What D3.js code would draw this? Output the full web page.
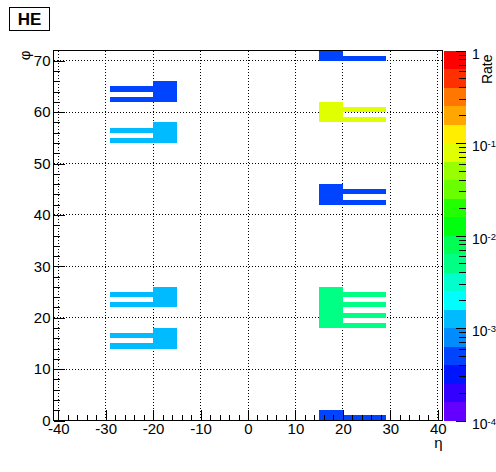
<!DOCTYPE html>
<html>
<head>
<meta charset="utf-8">
<script src="https://cdn.jsdelivr.net/npm/d3@7"></script>
<style>
    body { margin: 0; background: #fff; }
    text { font-family: "Liberation Sans", Arial, sans-serif; fill: #000; }
</style>
</head>
<body>
<div id="chart"></div>
<script>
// HE rate map: eta x phi towers on a log colour scale
const title = "HE";
const xTitle = "η";
const yTitle = "φ";
const zTitle = "Rate";

const xTicks = [-40, -30, -20, -10, 0, 10, 20, 30, 40];
const yTicks = [0, 10, 20, 30, 40, 50, 60, 70];
const zTicks = [1e-4, 1e-3, 1e-2, 1e-1, 1];
const zTickLabels = [["10", "-4"], ["10", "-3"], ["10", "-2"], ["10", "-1"], ["1", ""]];

// one entry per tower group: eta side, phi range, rate
const groupSide = [-1, -1, -1, -1, 1, 1, 1, 1, 1];
const groupPhiLo = [62, 54, 22, 14, 70, 58, 42, 18, 0];
const groupPhiHi = [66, 58, 26, 18, 72, 62, 46, 26, 2];
const groupRate = [5e-4, 1.2e-3, 1.2e-3, 1.2e-3, 5e-4, 8e-2, 5e-4, 5e-3, 5e-4];
// |eta| edges of the wide towers (every phi) and the narrow ones (every 2nd phi)
const blockEta = [15, 20];
const barEta = [20, 29];

const width = 496, height = 472;
const frame = { left: 53.5, right: 442.5, top: 50.5, bottom: 420.5 };
const bar = { left: 444, right: 466 };
const fontSize = 15;

// cells, one per histogram bin
const cells = [];
groupSide.forEach((s, g) => {
    const e0 = [s * blockEta[0], s * blockEta[1]].sort(d3.ascending);
    const e1 = [s * barEta[0], s * barEta[1]].sort(d3.ascending);
    for (let p = groupPhiLo[g]; p < groupPhiHi[g]; p++) {
        cells.push({ x0: e0[0], x1: e0[1], y0: p, y1: p + 1, z: groupRate[g] });
    }
    for (let p = groupPhiLo[g]; p < groupPhiHi[g]; p += 2) {
        cells.push({ x0: e1[0], x1: e1[1], y0: p, y1: p + 1, z: groupRate[g] });
    }
});

// old ROOT spectrum palette, 50 colours sampled on 20 contours
const nLevels = 20;
const palette = d3.range(nLevels).map(k => {
    const idx = Math.floor((k + 0.99) * 50 / nLevels);
    return d3.hsl(280 - (idx + 1) * 5.6, 1, 0.5).formatHex();
});
const color = d3.scaleQuantize().domain([-4, 0]).range(palette);

const x = d3.scaleLinear().domain([-41, 41]).range([frame.left, frame.right]);
const y = d3.scaleLinear().domain([0, 72]).range([frame.bottom, frame.top]);
const z = d3.scaleLog().domain([1e-4, 1]).range([frame.bottom, frame.top]);

const svg = d3.select("#chart")
    .append("svg")
    .attr("width", width)
    .attr("height", height);

svg.append("rect")
    .attr("width", width).attr("height", height)
    .attr("fill", "#fff");

// dotted grid under the cells
const grid = svg.append("g")
    .attr("stroke", "#000")
    .attr("stroke-dasharray", "1,2")
    .attr("shape-rendering", "crispEdges");
grid.selectAll(".gx")
    .data(xTicks)
    .enter().append("line")
    .attr("x1", d => x(d)).attr("x2", d => x(d))
    .attr("y1", frame.top).attr("y2", frame.bottom);
grid.selectAll(".gy")
    .data(yTicks.filter(d => d > 0))
    .enter().append("line")
    .attr("x1", frame.left).attr("x2", frame.right)
    .attr("y1", d => y(d)).attr("y2", d => y(d));

svg.append("g")
    .attr("shape-rendering", "crispEdges")
    .selectAll("rect")
    .data(cells)
    .enter().append("rect")
    .attr("x", d => x(d.x0))
    .attr("width", d => x(d.x1) - x(d.x0))
    .attr("y", d => y(d.y1))
    .attr("height", d => y(d.y0) - y(d.y1))
    .attr("fill", d => color(Math.log10(d.z)));

svg.append("rect")
    .attr("x", frame.left).attr("y", frame.top)
    .attr("width", frame.right - frame.left)
    .attr("height", frame.bottom - frame.top)
    .attr("fill", "none")
    .attr("stroke", "#000")
    .attr("shape-rendering", "crispEdges");

function styleAxis(g) {
    g.select(".domain").remove();
    g.attr("font-size", fontSize)
        .attr("font-family", null)
        .attr("shape-rendering", "crispEdges");
    g.selectAll("line").attr("stroke", "#000");
}

// plain hyphen minus, as ROOT prints it
const plain = d => String(d);

// x axis, ticks pointing into the frame
svg.append("g")
    .attr("transform", `translate(0,${frame.bottom})`)
    .call(d3.axisBottom(x).tickValues(d3.range(-40, 41, 2)).tickSize(-5.5).tickFormat(""))
    .call(styleAxis);
svg.append("g")
    .attr("transform", `translate(0,${frame.bottom})`)
    .call(d3.axisBottom(x).tickValues(xTicks).tickFormat(plain)
        .tickSizeInner(-11).tickSizeOuter(0).tickPadding(3))
    .call(styleAxis);

// y axis
svg.append("g")
    .attr("transform", `translate(${frame.left},0)`)
    .call(d3.axisLeft(y).tickValues(d3.range(0, 71, 2)).tickSize(-6).tickFormat(""))
    .call(styleAxis);
svg.append("g")
    .attr("transform", `translate(${frame.left},0)`)
    .call(d3.axisLeft(y).tickValues(yTicks).tickFormat(plain)
        .tickSizeInner(-11.5).tickSizeOuter(0).tickPadding(3))
    .call(styleAxis);

// colour bar
const levels = d3.range(nLevels);
svg.append("g")
    .attr("shape-rendering", "crispEdges")
    .selectAll("rect")
    .data(levels)
    .enter().append("rect")
    .attr("x", bar.left)
    .attr("width", bar.right - bar.left)
    .attr("y", k => z(Math.pow(10, -4 + (k + 1) * 4 / nLevels)))
    .attr("height", k => z(Math.pow(10, -4 + k * 4 / nLevels)) - z(Math.pow(10, -4 + (k + 1) * 4 / nLevels)))
    .attr("fill", k => palette[k]);

const zMinor = [];
zTicks.slice(0, -1).forEach(t => {
    for (let m = 2; m <= 9; m++) zMinor.push(t * m);
});
svg.append("g")
    .attr("transform", `translate(${bar.right},0)`)
    .call(d3.axisRight(z).tickValues(zMinor).tickSize(-7).tickFormat(""))
    .call(styleAxis);
svg.append("g")
    .attr("transform", `translate(${bar.right},0)`)
    .call(d3.axisRight(z).tickValues(zTicks).tickSize(-10).tickFormat(""))
    .call(styleAxis);

const zLabels = svg.append("g")
    .attr("font-size", 14)
    .selectAll("text")
    .data(zTicks)
    .enter().append("text")
    .attr("x", 472)
    .attr("y", d => z(d) + 8);
zLabels.append("tspan")
    .text((d, i) => zTickLabels[i][0]);
zLabels.append("tspan")
    .attr("font-size", 9.5)
    .attr("dy", -4)
    .text((d, i) => zTickLabels[i][1]);

// titles
svg.append("text")
    .attr("transform", `translate(492,${frame.top + 4}) rotate(-90)`)
    .attr("text-anchor", "end")
    .attr("font-size", 14)
    .text(zTitle);

svg.append("text")
    .attr("transform", `translate(30,${frame.top}) rotate(-90)`)
    .attr("text-anchor", "end")
    .attr("font-size", fontSize)
    .text(yTitle);

svg.append("text")
    .attr("x", frame.right)
    .attr("y", 448)
    .attr("text-anchor", "end")
    .attr("font-size", fontSize)
    .text(xTitle);

svg.append("rect")
    .attr("x", 9.5).attr("y", 7.5)
    .attr("width", 40).attr("height", 23)
    .attr("fill", "#fff")
    .attr("stroke", "#000")
    .attr("shape-rendering", "crispEdges");
svg.append("text")
    .attr("x", 29.5).attr("y", 25)
    .attr("text-anchor", "middle")
    .attr("font-size", 17)
    .attr("font-weight", "bold")
    .text(title);
</script>
</body>
</html>
